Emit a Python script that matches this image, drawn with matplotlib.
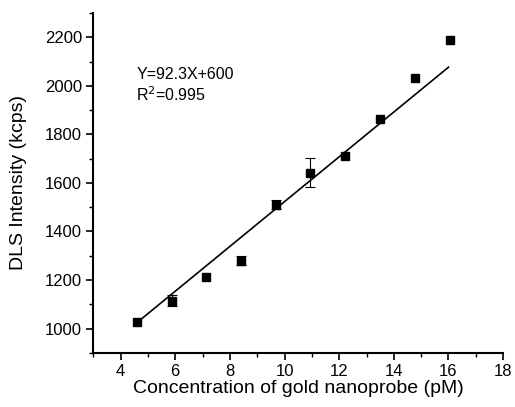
import matplotlib
matplotlib.use("Agg")
import matplotlib.pyplot as plt
from matplotlib.ticker import MultipleLocator
import numpy as np

conc = [4.61, 5.89, 7.14, 8.42, 9.70, 10.95, 12.23, 13.48, 14.76, 16.04]
intensity = [1029, 1115, 1214, 1280, 1511, 1643, 1713, 1862, 2031, 2188]
errors = [0, 22, 0, 18, 20, 60, 0, 0, 0, 0]
slope = 92.3
intercept = 600
fit_x = [4.6, 16.0]

plt.rcParams['font.family'] = ['Liberation Sans', 'DejaVu Sans']
fig = plt.figure(figsize=(5.15, 4.07), dpi=100)
ax = fig.add_axes([0.181, 0.133, 0.796, 0.835])

idx = [i for i, e in enumerate(errors) if e > 0]
ax.errorbar([conc[i] for i in idx], [intensity[i] for i in idx],
            yerr=[errors[i] for i in idx], fmt='none', ecolor='black',
            elinewidth=0.8, capsize=3.5, capthick=0.8, zorder=2)
ax.plot(conc, intensity, 's', color='black', ms=6, zorder=3)
fx = np.array(fit_x)
ax.plot(fx, slope * fx + intercept, color='black', lw=1.2, zorder=2)

ax.set_xlim(3, 18)
ax.set_ylim(900, 2300)
ax.xaxis.set_minor_locator(MultipleLocator(1))
ax.yaxis.set_minor_locator(MultipleLocator(100))
ax.set_xticks([4, 6, 8, 10, 12, 14, 16, 18])
ax.set_yticks([1000, 1200, 1400, 1600, 1800, 2000, 2200])

for s in ['top', 'right']:
    ax.spines[s].set_visible(False)
for s in ['left', 'bottom']:
    ax.spines[s].set_linewidth(1.5)
ax.tick_params(which='major', direction='out', length=5, width=1.2, labelsize=12, pad=3)
ax.tick_params(which='minor', direction='out', length=3, width=1.0)

ax.set_xlabel('Concentration of gold nanoprobe (pM)', fontsize=14, labelpad=1)
ax.set_ylabel('DLS Intensity (kcps)', fontsize=14, labelpad=13)

ax.text(0.105, 0.805, 'Y=92.3X+600', transform=ax.transAxes, fontsize=11.5)
ax.text(0.105, 0.74, 'R$^2$=0.995', transform=ax.transAxes, fontsize=11.5)

fig.savefig('out.png', dpi=100)
